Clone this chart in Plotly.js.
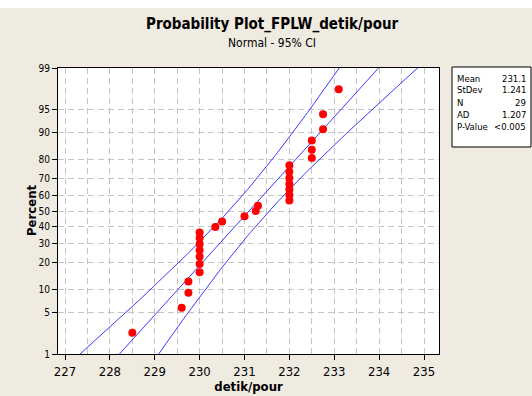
<!DOCTYPE html>
<html><head><meta charset="utf-8">
<script src="https://cdn.plot.ly/plotly-3.0.1.min.js"></script>
<style>html,body{margin:0;padding:0;background:#efebe1;}#chart{width:532px;height:396px;}</style>
</head><body><div id="chart"></div>
<script>
// Data (detik/pour)
const values = [228.5, 229.6, 229.75, 229.75, 230, 230, 230, 230, 230, 230, 230,
  230.35, 230.5, 231, 231.25, 231.3, 232, 232, 232, 232, 232, 232, 232,
  232.5, 232.5, 232.5, 232.75, 232.75, 233.1];
const percentTicks = [1, 5, 10, 20, 30, 40, 50, 60, 70, 80, 90, 95, 99];
const xTicks = [227, 228, 229, 230, 231, 232, 233, 234, 235];
const statLabels = ["Mean", "StDev", "N", "AD", "P-Value"];
const statValues = ["231.1", "1.241", "29", "1.207", "<0.005"];
const mean = 231.1, sd = 1.241, n = 29;

// inverse normal CDF (Acklam)
function probit(p) {
  const a=[-3.969683028665376e+01,2.209460984245205e+02,-2.759285104469687e+02,1.383577518672690e+02,-3.066479806614716e+01,2.506628277459239e+00];
  const b=[-5.447609879822406e+01,1.615858368580409e+02,-1.556989798598866e+02,6.680131188771972e+01,-1.328068155288572e+01];
  const c=[-7.784894002430293e-03,-3.223964580411365e-01,-2.400758277161838e+00,-2.549732539343734e+00,4.374664141464968e+00,2.938163982698783e+00];
  const d=[7.784695709041462e-03,3.224671290700398e-01,2.445134137142996e+00,3.754408661907416e+00];
  const pl=0.02425, ph=1-pl; let q,r;
  if(p<pl){q=Math.sqrt(-2*Math.log(p));return (((((c[0]*q+c[1])*q+c[2])*q+c[3])*q+c[4])*q+c[5])/((((d[0]*q+d[1])*q+d[2])*q+d[3])*q+1);}
  if(p<=ph){q=p-0.5;r=q*q;return (((((a[0]*r+a[1])*r+a[2])*r+a[3])*r+a[4])*r+a[5])*q/(((((b[0]*r+b[1])*r+b[2])*r+b[3])*r+b[4])*r+1);}
  q=Math.sqrt(-2*Math.log(1-p));return -(((((c[0]*q+c[1])*q+c[2])*q+c[3])*q+c[4])*q+c[5])/((((d[0]*q+d[1])*q+d[2])*q+d[3])*q+1);
}

const sorted = values.slice().sort((a,b)=>a-b);
const ptsZ = sorted.map((v,i)=>probit((i+1-0.3)/(n+0.4)));

// fitted line and 95% CI from mean / sd
const zs=[]; for(let z=-2.8; z<=2.8001; z+=0.05) zs.push(z);
const fitX = zs.map(z=>mean+sd*z);
const loX = zs.map(z=>mean+sd*z-1.96*sd*Math.sqrt((1+z*z/2)/n));
const hiX = zs.map(z=>mean+sd*z+1.96*sd*Math.sqrt((1+z*z/2)/n));

const blue = '#3a3aff';
const traces = [
  {x: loX, y: zs, mode:'lines', line:{color:blue, width:1}, hoverinfo:'skip'},
  {x: fitX, y: zs, mode:'lines', line:{color:blue, width:1}, hoverinfo:'skip'},
  {x: hiX, y: zs, mode:'lines', line:{color:blue, width:1}, hoverinfo:'skip'},
  {x: sorted, y: ptsZ, mode:'markers', marker:{color:'#ff0000', size:8}}
];

const font = 'Tahoma, "DejaVu Sans Condensed", "DejaVu Sans", sans-serif';
const H = 286, T = 68, L = 58, W = 381;
const py = p => 1 - (p - T)/H;
const px = p => (p - L)/W;
const annotations = [
  {text:'<b>Probability Plot_FPLW_detik/pour</b>', xref:'paper', yref:'paper', x:px(272), y:py(24), showarrow:false, font:{size:15, color:'#000', family:font}, xanchor:'center', yanchor:'middle'},
  {text:'Normal - 95% CI', xref:'paper', yref:'paper', x:px(272), y:py(43), showarrow:false, font:{size:12, color:'#000', family:font}, xanchor:'center', yanchor:'middle'},
  {text:'<b>Percent</b>', xref:'paper', yref:'paper', x:px(31), y:py(211), textangle:-90, showarrow:false, font:{size:13, color:'#000', family:font}, xanchor:'center', yanchor:'middle'}
];
const rowY = [78, 90, 102, 114, 126];
statLabels.forEach((lab,i)=>{
  annotations.push({text:lab, xref:'paper', yref:'paper', x:px(455), y:py(rowY[i]), xanchor:'left', yanchor:'middle', showarrow:false, font:{size:9.5, color:'#000', family:font}});
  annotations.push({text:statValues[i], xref:'paper', yref:'paper', x:px(528), y:py(rowY[i]), xanchor:'right', yanchor:'middle', showarrow:false, font:{size:9.5, color:'#000', family:font}});
});

const grid = '#c4c4c4';
const layout = {
  width:532, height:396,
  margin:{l:58, r:93, t:68, b:42},
  paper_bgcolor:'#efebe1', plot_bgcolor:'#ffffff',
  showlegend:false,
  font:{family:font, color:'#000'},
  xaxis:{range:[226.844, 235.334], tickvals:xTicks, ticktext:xTicks.map(String),
    ticks:'outside', ticklen:5, tickcolor:'#000', showline:true, linecolor:'#000', mirror:true,
    showgrid:true, gridcolor:grid, griddash:'6px,4px', zeroline:false,
    minor:{dtick:0.5, tick0:227, showgrid:true, gridcolor:grid, griddash:'6px,4px', ticks:''},
    tickfont:{size:13, family:font},
    title:{text:'<b>detik/pour</b>', font:{size:13, family:font}, standoff:4}},
  yaxis:{range:[probit(0.01), probit(0.99)], tickvals:percentTicks.map(p=>probit(p/100)), ticktext:percentTicks.map(String),
    ticks:'outside', ticklen:5, tickcolor:'#000', showline:true, linecolor:'#000', mirror:true,
    showgrid:true, gridcolor:grid, griddash:'6px,4px', zeroline:false,
    tickfont:{size:10, family:font}},
  shapes:[
    {type:'rect', xref:'paper', yref:'paper', x0:px(452), x1:px(531), y0:py(147), y1:py(67),
      line:{color:'#000', width:1}, fillcolor:'#ffffff', layer:'below'},
    {type:'rect', xref:'paper', yref:'paper', x0:px(0), x1:px(532), y0:py(8), y1:py(0),
      line:{width:0}, fillcolor:'#ffffff', layer:'below'}
  ],
  annotations: annotations
};
Plotly.newPlot('chart', traces, layout, {staticPlot:true, displayModeBar:false});
</script></body></html>
